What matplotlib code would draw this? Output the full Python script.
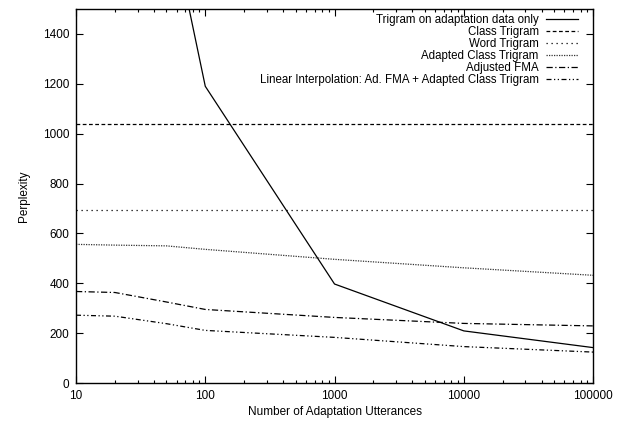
import numpy as np
import matplotlib
matplotlib.use("Agg")
import matplotlib.pyplot as plt

plt.rcParams['font.family'] = ['Liberation Sans', 'DejaVu Sans']

# values
utterances = [10, 20, 50, 100, 1000, 10000, 100000]
trigram_x = [10, 100, 1000, 10000, 100000]
trigram_adapt_only = [3670, 1190, 397, 209, 142]
class_trigram = [1037, 1037]
word_trigram = [695, 695]
adapted_class = [556, 553, 550, 536, 496, 462, 432]
adjusted_fma = [367, 363, 325, 295, 263, 239, 229]
lin_interp = [272, 268, 238, 211, 183, 146, 124]

labels = ["Trigram on adaptation data only", "Class Trigram", "Word Trigram",
          "Adapted Class Trigram", "Adjusted FMA",
          "Linear Interpolation: Ad. FMA + Adapted Class Trigram"]

fig = plt.figure(figsize=(6.21, 4.22), dpi=100)
ax = fig.add_axes([0.1224, 0.0924, 0.8326, 0.8863])

lw = 0.9
ax.plot(trigram_x, trigram_adapt_only, color='black', lw=lw, label=labels[0])
ax.plot([10, 100000], class_trigram, color='black', lw=lw, linestyle=(0, (3, 2)), label=labels[1])
ax.plot([10, 100000], word_trigram, color='black', lw=lw, linestyle=(0, (1, 3)), label=labels[2])
ax.plot(utterances, adapted_class, color='#333333', lw=lw, linestyle=(0, (1, 1)), label=labels[3])
ax.plot(utterances, adjusted_fma, color='black', lw=lw, linestyle=(0, (5, 2, 1, 2)), label=labels[4])
ax.plot(utterances, lin_interp, color='black', lw=lw, linestyle=(0, (4, 2, 1, 2, 1, 2)), label=labels[5])

ax.set_xscale('log')
ax.set_xlim(10, 100000)
ax.set_ylim(0, 1500)
ax.set_yticks(range(0, 1401, 200))
ax.set_xticks([10, 100, 1000, 10000, 100000])
ax.set_xticklabels(['10', '100', '1000', '10000', '100000'])

ax.tick_params(which='both', direction='in', top=True, right=True, labelsize=8.5, pad=5)
ax.tick_params(which='major', length=5, width=0.8)
ax.tick_params(which='minor', length=2.5, width=0.8)
for s in ax.spines.values():
    s.set_linewidth(1.0)

ax.set_xlabel("Number of Adaptation Utterances", fontsize=8.5, labelpad=3)
ax.set_ylabel("Perplexity", fontsize=8.5, labelpad=9)

ax.legend(loc='upper right', bbox_to_anchor=(0.971, 0.987), frameon=False,
          markerfirst=False, fontsize=8.3, handlelength=2.8, labelspacing=0.0,
          handletextpad=0.6, borderaxespad=0.0, borderpad=0.0)

fig.savefig("out.png", dpi=100)
